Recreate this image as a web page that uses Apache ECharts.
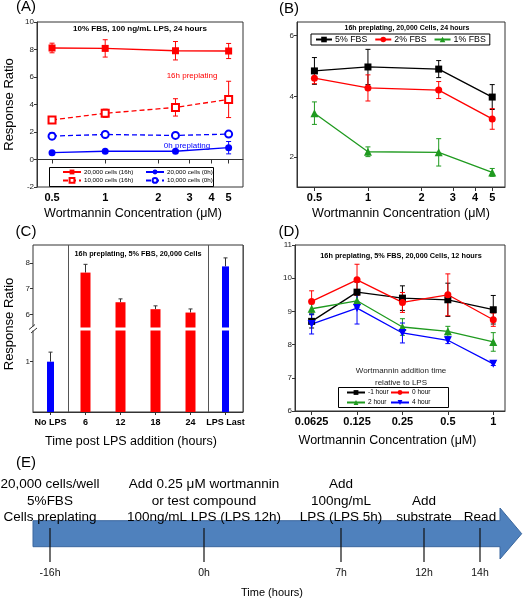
<!DOCTYPE html>
<html><head><meta charset="utf-8">
<script src="https://cdn.jsdelivr.net/npm/echarts@6/dist/echarts.min.js"></script>
<style>html,body{margin:0;padding:0;background:#fff}#c{width:528px;height:600px}</style>
</head><body><div id="c"></div>
<script>
// ---------- DATA ----------
// Panel A
const concAB = [0.5, 1, 2.5, 5];
const concTickLabels = [0.5, 1, 2, 3, 4, 5];
const a20k16h = [8.11, 8.08, 7.91, 7.89];
const a20k16hErr = [0.35, 0.63, 0.67, 0.55];
const a10k16h = [2.88, 3.36, 3.79, 4.37];
const a10k16hErr = [0.1, 0.3, 0.63, 1.32];
const a20k0h = [0.5, 0.6, 0.6, 0.86];
const a20k0hErr = [0.05, 0.05, 0.05, 0.45];
const a10k0h = [1.7, 1.82, 1.75, 1.85];
const a10k0hErr = [0.25, 0.1, 0.08, 0.1];
// Panel B
const b5FBS = [4.84, 4.97, 4.9, 3.98];
const b5FBSErr = [0.44, 0.58, 0.28, 0.41];
const b2FBS = [4.6, 4.28, 4.21, 3.26];
const b2FBSErr = [0.18, 0.43, 0.28, 0.34];
const b1FBS = [3.45, 2.18, 2.16, 1.5];
const b1FBSErr = [0.37, 0.16, 0.45, 0.13];
const bTickLabels = [2, 4, 6];
// Panel C
const cCategories = ['No LPS', '6', '12', '18', '24', 'LPS Last'];
const cValues = [1.0, 7.62, 6.47, 6.2, 6.07, 7.86];
const cErr = [0.19, 0.32, 0.13, 0.13, 0.14, 0.33];
const cIsControl = [true, false, false, false, false, true];
const cUpperTicks = [6, 7, 8];
const cLowerTicks = [1];
// Panel D
const concD = [0.0625, 0.125, 0.25, 0.5, 1];
const dMinus1h = [8.70, 9.58, 9.40, 9.35, 9.05];
const dMinus1hErr = [0.2, 0.3, 0.37, 0.5, 0.43];
const d0h = [9.30, 9.95, 9.27, 9.50, 8.75];
const d0hErr = [0.32, 0.47, 0.3, 0.63, 0.2];
const d2h = [9.08, 9.32, 8.53, 8.40, 8.08];
const d2hErr = [0.15, 0.2, 0.25, 0.15, 0.28];
const d4h = [8.62, 9.10, 8.35, 8.13, 7.42];
const d4hErr = [0.3, 0.48, 0.3, 0.1, 0.05];
// Panel E (schematic timeline)
const timelineTicks = ['-16h', '0h', '7h', '12h', '14h'];
const timelineSteps = [
  ['20,000 cells/well', '5%FBS', 'Cells preplating'],
  ['Add 0.25 \u03bcM wortmannin', 'or test compound', '100ng/mL LPS (LPS 12h)'],
  ['Add', '100ng/mL', 'LPS (LPS 5h)'],
  ['Add', 'substrate'],
  ['Read']
];

// ---------- LAYOUT / STYLE ----------
const FONT = 'Liberation Sans, Arial, sans-serif';
const RED = '#ff0000', BLUE = '#0000ff', BLACK = '#000000', GREEN = '#1f9a1f';
const timelineX = [50, 204, 341, 424, 480];
const downTri = 'path://M0,0 L10,0 L5,9 Z';

function fmtNum(v, list) {
  let best = list[0];
  list.forEach(l => { if (Math.abs(Math.log(l) - Math.log(v)) < Math.abs(Math.log(best) - Math.log(v))) best = l; });
  return String(best);
}

function errSeries(name, xi, yi, xs, ys, errs, color, oneSided, capW, useIndex) {
  const data = ys.map((y, i) => (y == null ? null : [useIndex ? i : xs[i], oneSided ? y : y - errs[i], y + errs[i]])).filter(Boolean);
  return {
    type: 'custom', name, xAxisIndex: xi, yAxisIndex: yi, z: 2, silent: true,
    renderItem(params, api) {
      const x = api.value(0);
      const lo = api.coord([x, api.value(1)]);
      const hi = api.coord([x, api.value(2)]);
      const cw = capW / 2;
      const st = { stroke: color, lineWidth: 1 };
      const ch = [
        { type: 'line', shape: { x1: lo[0], y1: lo[1], x2: hi[0], y2: hi[1] }, style: st },
        { type: 'line', shape: { x1: hi[0] - cw, y1: hi[1], x2: hi[0] + cw, y2: hi[1] }, style: st }
      ];
      if (!oneSided) ch.push({ type: 'line', shape: { x1: lo[0] - cw, y1: lo[1], x2: lo[0] + cw, y2: lo[1] }, style: st });
      return { type: 'group', children: ch };
    },
    data
  };
}
function lineSeries(name, xi, yi, xs, ys, color, symbol, dashed, size) {
  return {
    type: 'line', name, xAxisIndex: xi, yAxisIndex: yi, z: 3,
    data: xs.map((x, i) => [x, ys[i]]),
    symbol, symbolSize: size, showSymbol: true,
    lineStyle: { color, width: 1.3, type: dashed ? [5, 3] : 'solid' },
    itemStyle: { color, borderColor: color, borderWidth: symbol.indexOf('empty') === 0 ? 1.2 : 0 }
  };
}
const axisLineStyle = { lineStyle: { color: '#333', width: 1 } };
function logX(gridIndex, base, min, max, ticks, labelSize, name, namePadR) {
  return {
    type: 'log', logBase: base, gridIndex, min, max,
    axisLine: axisLineStyle,
    axisTick: { show: true, length: 4, customValues: ticks, lineStyle: { color: '#333' } },
    axisLabel: { customValues: ticks, fontSize: labelSize, fontWeight: 'bold', color: '#000', margin: 5,
      formatter: v => fmtNum(v, ticks) },
    splitLine: { show: false }, minorTick: { show: false },
    name, nameLocation: 'middle', nameGap: 20,
    nameTextStyle: { fontSize: 12.5, color: '#000', padding: [0, namePadR || 0, 0, 0] }
  };
}
function valY(gridIndex, min, max, opts) {
  const o = {
    type: 'value', gridIndex, min, max,
    axisLine: { show: true, lineStyle: { color: '#333' } },
    axisTick: { show: true, length: 3, lineStyle: { color: '#333' } },
    axisLabel: { fontSize: 8, color: '#222', margin: 3 },
    splitLine: { show: false }
  };
  return Object.assign(o, opts || {});
}

const chart = echarts.init(document.getElementById('c'), null, { renderer: 'canvas' });

const grids = [
  { left: 37, top: 22, width: 206, height: 165, show: true, borderColor: '#333', borderWidth: 1 },   // 0 A
  { left: 297, top: 22, width: 208, height: 165, show: true, borderColor: '#333', borderWidth: 1 },  // 1 B
  { left: 33, top: 245, width: 210, height: 167, show: true, borderColor: '#333', borderWidth: 1 },  // 2 C frame
  { left: 33, top: 245, width: 210, height: 82.5 },                                                  // 3 C upper
  { left: 33, top: 330.5, width: 210, height: 81.5 },                                                // 4 C lower
  { left: 295, top: 245, width: 210, height: 166, show: true, borderColor: '#333', borderWidth: 1 }  // 5 D
];

const hiddenCat = (gi, pos) => ({ type: 'category', gridIndex: gi, data: cCategories, show: false, position: pos });

const xAxes = [
  logX(0, 10, 0.411, 6.03, concTickLabels, 11, 'Wortmannin Concentration (\u03bcM)', 14),   // 0
  logX(1, 10, 0.399, 5.9, concTickLabels, 11, 'Wortmannin Concentration (\u03bcM)', 0),     // 1
  { type: 'category', gridIndex: 2, data: cCategories,                                     // 2
    axisLine: axisLineStyle,
    axisTick: { show: true, alignWithLabel: true, interval: 0, length: 3, lineStyle: { color: '#333' } },
    axisLabel: { fontSize: 9, fontWeight: 'bold', color: '#000', margin: 6, interval: 0 },
    splitLine: { show: true, interval: (i) => i === 1 || i === 5, lineStyle: { color: '#555', width: 1 } },
    name: 'Time post LPS addition (hours)', nameLocation: 'middle', nameGap: 23,
    nameTextStyle: { fontSize: 12.5, color: '#000', padding: [0, 14, 0, 0] } },
  hiddenCat(3, 'bottom'),   // 3 upper red
  hiddenCat(4, 'bottom'),   // 4 lower red
  logX(5, 2, 0.0485, 1.196, concD, 11, 'Wortmannin Concentration (\u03bcM)', 25),           // 5
  hiddenCat(3, 'top'),      // 6 upper blue
  hiddenCat(4, 'top')       // 7 lower blue
];
xAxes[5].nameGap = 23;

const yAxes = [
  valY(0, -2, 10, { interval: 2, name: 'Response Ratio', nameLocation: 'middle', nameGap: 21,
    nameTextStyle: { fontSize: 13, color: '#000' } }),
  valY(1, 1.02, 6.45, { axisLabel: { fontSize: 8, color: '#222', margin: 3, customValues: bTickLabels },
    axisTick: { show: true, length: 3, customValues: bTickLabels, lineStyle: { color: '#333' } } }),
  { type: 'value', gridIndex: 2, min: 0, max: 1, axisLine: { show: false }, axisTick: { show: false },
    axisLabel: { show: false }, splitLine: { show: false },
    name: 'Response Ratio', nameLocation: 'middle', nameGap: 17, nameTextStyle: { fontSize: 13, color: '#000', padding: [0, 0, 0, 9] } },
  valY(3, 5.49, 8.69, { axisLine: { show: false },
    axisLabel: { fontSize: 8, color: '#222', margin: 3, customValues: cUpperTicks },
    axisTick: { show: true, length: 3, customValues: cUpperTicks, lineStyle: { color: '#333' } } }),
  valY(4, 0, 1.62, { axisLine: { show: false },
    axisLabel: { fontSize: 8, color: '#222', margin: 3, customValues: cLowerTicks },
    axisTick: { show: true, length: 3, customValues: cLowerTicks, lineStyle: { color: '#333' } } }),
  valY(5, 6, 11, { interval: 1 })
];

// C bars
const upperMin = 5.49;
const redVals = cValues.map((v, i) => cIsControl[i] ? '-' : v);
const blueVals = cValues.map((v, i) => cIsControl[i] ? v : '-');
const upperRed = redVals.map(v => (v !== '-' && v > upperMin) ? v : '-');
const upperBlue = blueVals.map(v => (v !== '-' && v > upperMin) ? v : '-');
const cErrUpper = cValues.map((v, i) => v > upperMin ? v : null);
const cErrLower = cValues.map((v, i) => v > upperMin ? null : v);

const series = [
  // A
  errSeries('eA1', 0, 0, concAB, a20k16h, a20k16hErr, RED, false, 5),
  errSeries('eA2', 0, 0, concAB, a10k16h, a10k16hErr, RED, false, 5),
  errSeries('eA3', 0, 0, concAB, a20k0h, a20k0hErr, BLUE, false, 5),
  errSeries('eA4', 0, 0, concAB, a10k0h, a10k0hErr, BLUE, false, 5),
  lineSeries('20,000 cells (16h)', 0, 0, concAB, a20k16h, RED, 'rect', false, 7),
  lineSeries('10,000 cells (16h)', 0, 0, concAB, a10k16h, RED, 'emptyRect', true, 7),
  lineSeries('20,000 cells (0h)', 0, 0, concAB, a20k0h, BLUE, 'circle', false, 7),
  lineSeries('10,000 cells (0h)', 0, 0, concAB, a10k0h, BLUE, 'emptyCircle', true, 7),
  // B
  errSeries('eB1', 1, 1, concAB, b5FBS, b5FBSErr, BLACK, false, 5),
  errSeries('eB2', 1, 1, concAB, b2FBS, b2FBSErr, RED, false, 5),
  errSeries('eB3', 1, 1, concAB, b1FBS, b1FBSErr, GREEN, false, 5),
  lineSeries('5% FBS', 1, 1, concAB, b5FBS, BLACK, 'rect', false, 7),
  lineSeries('2% FBS', 1, 1, concAB, b2FBS, RED, 'circle', false, 7),
  lineSeries('1% FBS', 1, 1, concAB, b1FBS, GREEN, 'triangle', false, 8),
  // C
  { type: 'bar', name: 'cUpRed', xAxisIndex: 3, yAxisIndex: 3, data: upperRed, barWidth: 10, itemStyle: { color: RED }, clip: true, z: 2 },
  { type: 'bar', name: 'cUpBlue', xAxisIndex: 6, yAxisIndex: 3, data: upperBlue, barWidth: 7, itemStyle: { color: BLUE }, clip: true, z: 2 },
  { type: 'bar', name: 'cLoRed', xAxisIndex: 4, yAxisIndex: 4, data: redVals, barWidth: 10, itemStyle: { color: RED }, clip: true, z: 2 },
  { type: 'bar', name: 'cLoBlue', xAxisIndex: 7, yAxisIndex: 4, data: blueVals, barWidth: 7, itemStyle: { color: BLUE }, clip: true, z: 2 },
  errSeries('eCu', 3, 3, null, cErrUpper, cErr, '#333', true, 4, true),
  errSeries('eCl', 4, 4, null, cErrLower, cErr, '#333', true, 4, true),
  // D
  errSeries('eD1', 5, 5, concD, dMinus1h, dMinus1hErr, BLACK, false, 5),
  errSeries('eD2', 5, 5, concD, d0h, d0hErr, RED, false, 5),
  errSeries('eD3', 5, 5, concD, d2h, d2hErr, GREEN, false, 5),
  errSeries('eD4', 5, 5, concD, d4h, d4hErr, BLUE, false, 5),
  lineSeries('-1 hour', 5, 5, concD, dMinus1h, BLACK, 'rect', false, 7),
  lineSeries('0 hour', 5, 5, concD, d0h, RED, 'circle', false, 7),
  lineSeries('2 hour', 5, 5, concD, d2h, GREEN, 'triangle', false, 8),
  lineSeries('4 hour', 5, 5, concD, d4h, BLUE, downTri, false, 8)
];

function legendCol(items, left, top, fontSize, iw, gap) {
  return {
    orient: 'vertical', left, top, padding: 0, itemGap: gap, itemWidth: iw, itemHeight: 6,
    data: items, selectedMode: false,
    textStyle: { fontSize, color: '#000', padding: [0, 0, 0, -2] }
  };
}
const legends = [
  legendCol(['20,000 cells (16h)', '10,000 cells (16h)'], 62, 169, 6.2, 18, 2),
  legendCol(['20,000 cells (0h)', '10,000 cells (0h)'], 145, 169, 6.2, 18, 2),
  { orient: 'horizontal', left: 311, top: 34, padding: [1, 4, 1, 4], itemGap: 7, itemWidth: 16, itemHeight: 7,
    borderColor: '#000', borderWidth: 1, selectedMode: false,
    data: ['5% FBS', '2% FBS', '1% FBS'], textStyle: { fontSize: 8.8, color: '#000', padding: [0, 0, 0, -2] } },
  legendCol(['-1 hour', '2 hour'], 346, 389, 6.5, 18, 3),
  legendCol(['0 hour', '4 hour'], 390, 389, 6.5, 18, 3)
];

// ---------- GRAPHIC TEXT / SCHEMATIC ----------
const g = [];
function txt(text, x, y, size, opts) {
  opts = opts || {};
  g.push({ type: 'text', z: 10, style: { text, x, y, fill: opts.color || '#000',
    font: (opts.bold ? 'bold ' : '') + size + 'px ' + FONT,
    textAlign: opts.align || 'center', textVerticalAlign: 'middle' } });
}
txt('(A)', 26, 7, 15); txt('(B)', 289, 8.5, 15); txt('(C)', 26, 232, 15); txt('(D)', 289, 232, 15); txt('(E)', 26, 463, 15);
txt('10% FBS, 100 ng/mL LPS, 24 hours', 140, 29, 8, { bold: true });
txt('16h preplating, 20,000 Cells, 24 hours', 407, 28, 7, { bold: true });
txt('16h preplating, 5% FBS, 20,000 Cells', 138, 254, 7.3, { bold: true });
txt('16h preplating, 5% FBS, 20,000 Cells, 12 hours', 401, 255.7, 7.3, { bold: true });
txt('16h preplating', 192, 76, 8, { color: RED });
txt('0h preplating', 187, 146, 8, { color: BLUE });
txt('Wortmannin addition time', 401, 370.7, 8, { color: '#222' });
txt('relative to LPS', 401, 382.3, 8, { color: '#222' });
// legend boxes
g.push({ type: 'rect', z: 9, shape: { x: 49.5, y: 167.5, width: 164, height: 19 }, style: { fill: 'none', stroke: '#000', lineWidth: 1 } });
g.push({ type: 'rect', z: 9, shape: { x: 338.5, y: 387.5, width: 110, height: 20 }, style: { fill: 'none', stroke: '#000', lineWidth: 1 } });
// axis break marks in C
g.push({ type: 'rect', z: 20, shape: { x: 30, y: 326.5, width: 6, height: 4 }, style: { fill: '#fff' } });
g.push({ type: 'line', z: 21, shape: { x1: 29, y1: 329.5, x2: 35, y2: 324.5 }, style: { stroke: '#333', lineWidth: 1 } });
g.push({ type: 'line', z: 21, shape: { x1: 31, y1: 333, x2: 37, y2: 328 }, style: { stroke: '#333', lineWidth: 1 } });
// E arrow
g.push({ type: 'polygon', z: 5, shape: { points: [[33, 520.7], [500, 520.7], [500, 508], [521.7, 533.7], [500, 559], [500, 546.7], [33, 546.7]] },
  style: { fill: '#4f81bd', stroke: '#3a679e', lineWidth: 1 } });
timelineX.forEach((x, i) => {
  g.push({ type: 'line', z: 6, shape: { x1: x, y1: 528, x2: x, y2: 562 }, style: { stroke: '#111', lineWidth: 1.2 } });
  txt(timelineTicks[i], x, 573, 10.5, { color: '#111' });
  const lines = timelineSteps[i];
  lines.forEach((l, j) => {
    txt(l, x, 517.7 - (lines.length - 1 - j) * 16.7, 13.5, {});
  });
});
txt('Time (hours)', 272, 592.7, 11);

chart.setOption({
  animation: false,
  backgroundColor: '#fff',
  textStyle: { fontFamily: FONT },
  grid: grids, xAxis: xAxes, yAxis: yAxes, series, legend: legends, graphic: g
});
</script></body></html>
